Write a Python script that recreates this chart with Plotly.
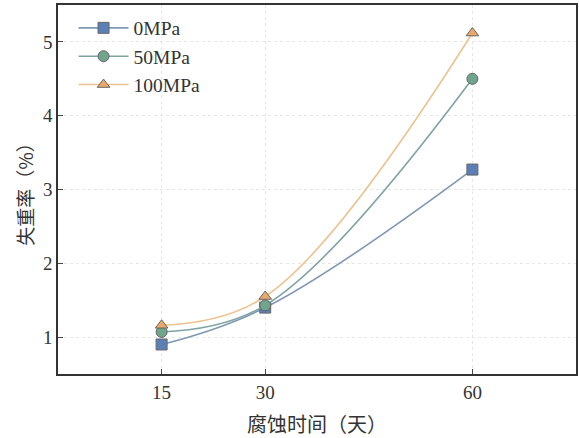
import plotly.graph_objects as go

days = [15, 30, 60]
loss_0 = [0.90, 1.40, 3.27]
loss_50 = [1.07, 1.43, 4.50]
loss_100 = [1.16, 1.55, 5.12]
x_ticks = [15, 30, 60]
y_ticks = [1, 2, 3, 4, 5]

series = [
    ("0MPa", loss_0, "square", "#5b80b8", "#7f97b3"),
    ("50MPa", loss_50, "circle", "#6ea58c", "#7fa3a3"),
    ("100MPa", loss_100, "triangle-up", "#eaa96a", "#ecc390"),
]

fig = go.Figure()
for name, vals, sym, mc, lc in series:
    fig.add_trace(go.Scatter(
        x=days, y=vals, name=name, mode="lines+markers",
        line=dict(color=lc, width=1.6, shape="spline", smoothing=1.1),
        marker=dict(symbol=sym, size=11, color=mc, line=dict(color="#666666", width=1)),
    ))

serif = "Times New Roman, Liberation Serif, Noto Sans CJK SC, serif"
cjk = "Noto Sans CJK SC, serif"
fig.update_layout(
    width=579, height=438,
    margin=dict(l=58, r=3, t=5, b=64),
    paper_bgcolor="white", plot_bgcolor="white",
    font=dict(family=serif, size=19, color="#333333"),
    showlegend=True,
    legend=dict(x=0.03, y=0.99, xanchor="left", yanchor="top",
                bgcolor="rgba(0,0,0,0)", font=dict(size=19.5, family=serif),
                itemwidth=50, tracegroupgap=0),
    xaxis=dict(range=[0, 75], tickvals=x_ticks, ticks="inside", ticklen=5,
               showline=True, linecolor="#333333", linewidth=1.5, mirror=True,
               showgrid=True, gridcolor="#e6e6e6", griddash="dot", zeroline=False,
               automargin=False,
               title=dict(text="腐蚀时间（天）", font=dict(size=20, family=cjk), standoff=16)),
    yaxis=dict(range=[0.5, 5.5], tickvals=y_ticks, ticks="inside", ticklen=5,
               showline=True, linecolor="#333333", linewidth=1.5, mirror=True,
               showgrid=True, gridcolor="#e6e6e6", griddash="dot", zeroline=False,
               automargin=False,
               title=dict(text="失重率（%）", font=dict(size=19, family=cjk), standoff=4)),
)

fig.write_html("out.html", config={"displayModeBar": False},
               post_script="document.body.style.margin='0';document.body.style.overflow='hidden';")
